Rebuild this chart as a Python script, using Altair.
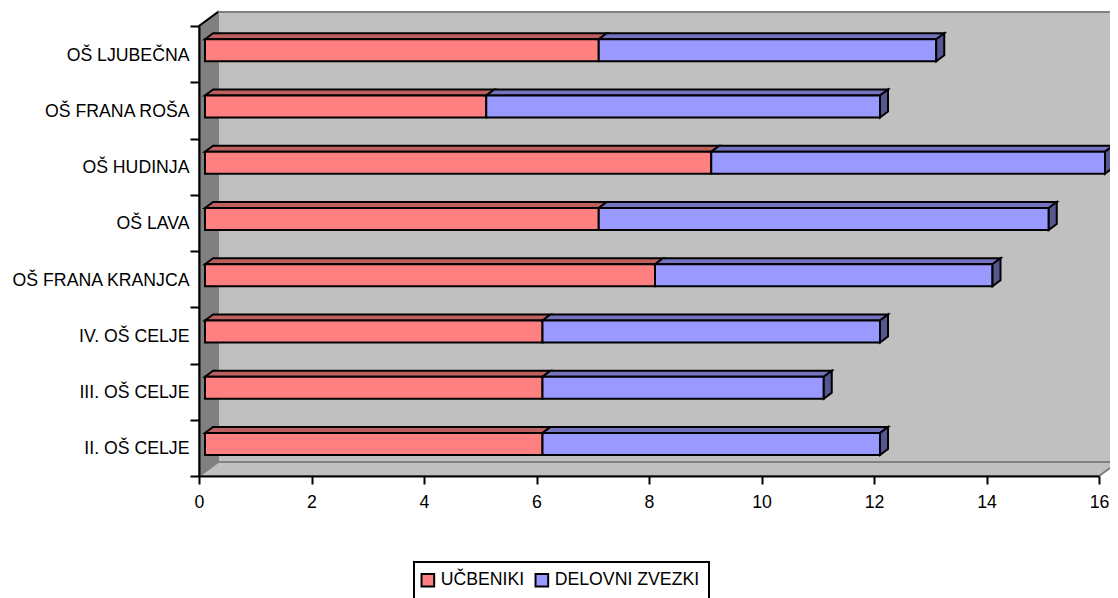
import altair as alt
import pandas as pd

schools = ["OŠ LJUBEČNA", "OŠ FRANA ROŠA", "OŠ HUDINJA", "OŠ LAVA",
           "OŠ FRANA KRANJCA", "IV. OŠ CELJE", "III. OŠ CELJE", "II. OŠ CELJE"]
ucbeniki = [7, 5, 9, 7, 8, 6, 6, 6]
zvezki = [6, 7, 7, 8, 6, 6, 5, 6]
series_names = ["UČBENIKI", "DELOVNI ZVEZKI"]
front_colors = ["#ff8080", "#9999ff"]
top_colors = ["#bf6060", "#7373bf"]
side_colors = ["#bf6060", "#565690"]

FONT = "Liberation Sans"
FS = 17.7
PX = 56.25               # pixels per unit on both scales
WALL_DX, WALL_DY = 19 / PX, 14 / PX
BAR_X0 = 6 / PX
BAR_DX, BAR_DY = 8 / PX, 6 / PX
BAR_Y0, BAR_Y1 = 21 / PX, 43 / PX
XMAX, YMAX = 16, 8

xs = alt.Scale(domain=[0, XMAX], nice=False, zero=False)
ys = alt.Scale(domain=[0, YMAX], nice=False, zero=False)
xaxis = alt.Axis(values=list(range(0, 17, 2)), grid=False, title=None, format="d",
                 domainColor="black", domainWidth=2, tickColor="black", tickWidth=2,
                 tickSize=8, labelPadding=9, labelFont=FONT, labelFontSize=FS,
                 labelColor="black", labelFlush=False, zindex=1)


def X(f):
    return alt.X(f, type="quantitative", scale=xs, axis=xaxis)


def Y(f):
    return alt.Y(f, type="quantitative", scale=ys, axis=None)


# walls
back = pd.DataFrame([dict(x=WALL_DX, x2=XMAX + WALL_DX, y=WALL_DY, y2=YMAX + WALL_DY)])
floor = pd.DataFrame([dict(x=0, x2=XMAX, y=0), dict(x=WALL_DX, x2=XMAX + WALL_DX, y=WALL_DY)])
left = pd.DataFrame([dict(x=0, y=0, y2=YMAX), dict(x=WALL_DX, y=WALL_DY, y2=YMAX + WALL_DY)])
edge = pd.DataFrame([dict(x=0, y=YMAX), dict(x=WALL_DX, y=YMAX + WALL_DY)])

GREY = "#808080"
layers = [
    alt.Chart(back).mark_rect(fill="#c0c0c0", stroke=GREY, strokeWidth=2).encode(
        x=X("x"), x2="x2", y=Y("y"), y2="y2"),
    alt.Chart(floor).mark_area(orient="horizontal", fill="#c0c0c0", stroke=GREY, strokeWidth=2).encode(
        x=X("x"), x2="x2", y=Y("y")),
    alt.Chart(left).mark_area(fill=GREY, stroke=GREY, strokeWidth=2).encode(
        x=X("x"), y=Y("y"), y2="y2"),
    alt.Chart(edge).mark_line(color="black", strokeWidth=2).encode(x=X("x"), y=Y("y")),
]

# bars
front, top, side = [], [], []
for i, s in enumerate(schools):
    base = len(schools) - 1 - i
    yb, yt = base + BAR_Y0, base + BAR_Y1
    a = BAR_X0
    for k, v in enumerate((ucbeniki[i], zvezki[i])):
        b = a + v
        front.append(dict(school=s, series=series_names[k], x=a, x2=b, y=yb, y2=yt))
        top.append(dict(key=f"{s}{k}", k=k, y=yt, x=a, x2=b))
        top.append(dict(key=f"{s}{k}", k=k, y=yt + BAR_DY, x=a + BAR_DX, x2=b + BAR_DX))
        if k == 1:
            side.append(dict(key=s, k=k, x=b, y=yb, y2=yt))
            side.append(dict(key=s, k=k, x=b + BAR_DX, y=yb + BAR_DY, y2=yt + BAR_DY))
        a = b
front, top, side = map(pd.DataFrame, (front, top, side))

color = alt.Color(
    "series:N",
    scale=alt.Scale(domain=series_names, range=front_colors),
    legend=alt.Legend(
        title=None, orient="none", direction="horizontal", legendX=215, legendY=536,
        symbolType="square", symbolSize=160, symbolStrokeColor="black", symbolStrokeWidth=2,
        symbolOffset=-4,
        labelFont=FONT, labelFontSize=FS, labelColor="black", labelOffset=4, labelLimit=300,
        columnPadding=6, padding=9, strokeColor="black"),
)

for k in (0, 1):
    layers.append(
        alt.Chart(top[top.k == k]).mark_area(
            orient="horizontal", fill=top_colors[k], stroke="black", strokeWidth=2
        ).encode(x=X("x"), x2="x2", y=Y("y"), detail="key:N"))
    layers.append(
        alt.Chart(front[front.series == series_names[k]]).mark_rect(
            stroke="black", strokeWidth=2
        ).encode(x=X("x"), x2="x2", y=Y("y"), y2="y2", color=color))
layers.append(
    alt.Chart(side).mark_area(fill=side_colors[1], stroke="black", strokeWidth=2).encode(
        x=X("x"), y=Y("y"), y2="y2", detail="key:N"))

# category axis
cat_layer = alt.Chart(pd.DataFrame({"school": schools})).mark_point(opacity=0).encode(
    x=alt.value(0),
    y=alt.Y("school:N", sort=schools,
            scale=alt.Scale(type="band", domain=schools, paddingInner=0, paddingOuter=0),
            axis=alt.Axis(title=None, tickBand="extent", domainColor="black", domainWidth=2,
                          tickColor="black", tickWidth=2, tickSize=9, labelPadding=1,
                          labelOffset=1, labelFont=FONT, labelFontSize=FS, labelColor="black",
                          labelLimit=300, grid=False, zindex=1)),
)
layers.append(cat_layer)

chart = alt.layer(*layers).resolve_scale(y="independent").properties(
    width=900, height=450,
    autosize=alt.AutoSizeParams(type="none"),
    padding={"left": 191, "top": 18, "right": 11, "bottom": 122},
    background="white",
).configure_view(stroke=None).configure_legend(strokeWidth=2)

chart.save("out.html", embed_options={"renderer": "svg", "actions": False})
